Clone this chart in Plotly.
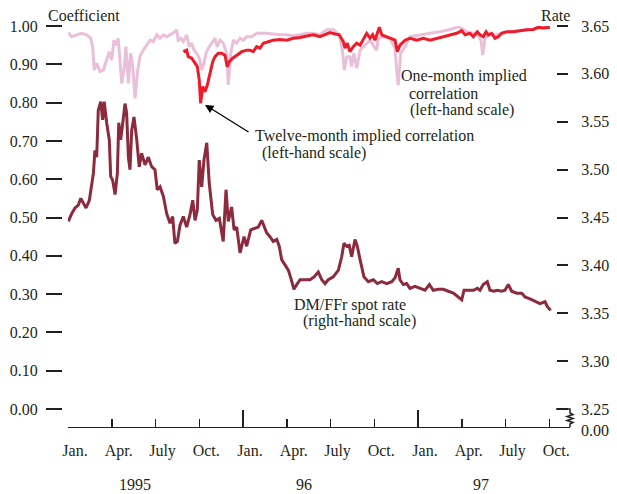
import plotly.graph_objects as go

# ---------------- data ----------------
# time in decimal years, values: correlation coefficient (left) / DM per FFr rate (right)
spot_t = [1995.002, 1995.021, 1995.040, 1995.059, 1995.073, 1995.087, 1995.103, 1995.122, 1995.135, 1995.145,
          1995.154, 1995.164, 1995.173, 1995.187, 1995.198, 1995.207, 1995.221, 1995.236, 1995.244, 1995.255,
          1995.269, 1995.282, 1995.290, 1995.301, 1995.313, 1995.326, 1995.335, 1995.345, 1995.354, 1995.364,
          1995.377, 1995.393, 1995.407, 1995.421, 1995.440, 1995.459, 1995.478, 1995.497, 1995.510, 1995.526,
          1995.545, 1995.564, 1995.583, 1995.598, 1995.611, 1995.625, 1995.640, 1995.659, 1995.678, 1995.697,
          1995.713, 1995.726, 1995.739, 1995.750, 1995.764, 1995.777, 1995.793, 1995.807, 1995.827, 1995.846,
          1995.865, 1995.887, 1995.903, 1995.916, 1995.935, 1995.949, 1995.964, 1995.983, 1996.006, 1996.021,
          1996.044, 1996.069, 1996.087, 1996.107, 1996.120, 1996.135, 1996.154, 1996.173, 1996.193, 1996.207,
          1996.221, 1996.240, 1996.259, 1996.273, 1996.291, 1996.307, 1996.326, 1996.354, 1996.383, 1996.406,
          1996.430, 1996.450, 1996.469, 1996.487, 1996.516, 1996.545, 1996.564, 1996.577, 1996.593, 1996.607,
          1996.621, 1996.640, 1996.653, 1996.669, 1996.691, 1996.716, 1996.745, 1996.767, 1996.793, 1996.821,
          1996.850, 1996.869, 1996.887, 1996.897, 1996.916, 1996.935, 1996.954, 1996.983, 1997.011, 1997.040,
          1997.065, 1997.087, 1997.116, 1997.145, 1997.173, 1997.202, 1997.230, 1997.250, 1997.263, 1997.287,
          1997.316, 1997.339, 1997.354, 1997.373, 1997.396, 1997.411, 1997.434, 1997.453, 1997.478, 1997.497,
          1997.516, 1997.535, 1997.564, 1997.593, 1997.611, 1997.640, 1997.669, 1997.697, 1997.726, 1997.739,
          1997.758]
spot_rate = [3.446, 3.454, 3.460, 3.463, 3.470, 3.465, 3.460, 3.468, 3.482, 3.496,
             3.520, 3.513, 3.562, 3.571, 3.552, 3.571, 3.549, 3.531, 3.493, 3.489,
             3.474, 3.496, 3.549, 3.531, 3.549, 3.569, 3.559, 3.513, 3.500, 3.541,
             3.555, 3.531, 3.503, 3.517, 3.505, 3.513, 3.503, 3.500, 3.479, 3.482,
             3.472, 3.454, 3.444, 3.451, 3.423, 3.425, 3.442, 3.451, 3.440, 3.453,
             3.468, 3.447, 3.458, 3.510, 3.482, 3.510, 3.528, 3.486, 3.453, 3.447,
             3.449, 3.425, 3.479, 3.446, 3.461, 3.437, 3.440, 3.413, 3.430, 3.420,
             3.437, 3.439, 3.440, 3.447, 3.440, 3.434, 3.430, 3.425, 3.427, 3.420,
             3.406, 3.400, 3.395, 3.387, 3.375, 3.380, 3.385, 3.385, 3.385, 3.388,
             3.393, 3.385, 3.381, 3.385, 3.388, 3.395, 3.409, 3.423, 3.420, 3.421,
             3.409, 3.427, 3.420, 3.406, 3.388, 3.383, 3.385, 3.381, 3.383, 3.381,
             3.383, 3.387, 3.397, 3.385, 3.380, 3.381, 3.376, 3.378, 3.376, 3.374,
             3.380, 3.374, 3.375, 3.375, 3.373, 3.371, 3.367, 3.364, 3.374, 3.374,
             3.374, 3.376, 3.374, 3.380, 3.383, 3.374, 3.373, 3.374, 3.373, 3.374,
             3.380, 3.373, 3.371, 3.371, 3.367, 3.365, 3.362, 3.360, 3.362, 3.357,
             3.353]

one_t = [1995.000, 1995.021, 1995.050, 1995.078, 1995.107, 1995.130, 1995.141, 1995.150, 1995.164, 1995.183,
         1995.202, 1995.221, 1995.236, 1995.250, 1995.263, 1995.274, 1995.287, 1995.297, 1995.307, 1995.320,
         1995.331, 1995.345, 1995.358, 1995.370, 1995.383, 1995.396, 1995.411, 1995.430, 1995.450, 1995.469,
         1995.487, 1995.507, 1995.526, 1995.545, 1995.564, 1995.583, 1995.611, 1995.621, 1995.630, 1995.644,
         1995.659, 1995.678, 1995.693, 1995.707, 1995.720, 1995.735, 1995.750, 1995.764, 1995.777, 1995.789,
         1995.802, 1995.821, 1995.840, 1995.853, 1995.869, 1995.887, 1995.907, 1995.916, 1995.930, 1995.945,
         1995.964, 1995.983, 1996.002, 1996.021, 1996.050, 1996.078, 1996.135, 1996.173, 1996.211, 1996.250,
         1996.287, 1996.326, 1996.364, 1996.402, 1996.440, 1996.478, 1996.516, 1996.550, 1996.570, 1996.579,
         1996.593, 1996.611, 1996.621, 1996.634, 1996.650, 1996.669, 1996.697, 1996.726, 1996.749, 1996.764,
         1996.773, 1996.802, 1996.840, 1996.869, 1996.878, 1996.887, 1996.901, 1996.926, 1996.954, 1997.011,
         1997.069, 1997.126, 1997.183, 1997.230, 1997.259, 1997.297, 1997.335, 1997.360, 1997.370, 1997.383,
         1997.411, 1997.450, 1997.487, 1997.526, 1997.583, 1997.640, 1997.697, 1997.754]
one_corr = [0.983, 0.972, 0.977, 0.981, 0.977, 0.968, 0.946, 0.885, 0.903, 0.881,
            0.885, 0.911, 0.933, 0.911, 0.963, 0.950, 0.968, 0.911, 0.850, 0.885,
            0.946, 0.850, 0.929, 0.894, 0.811, 0.876, 0.920, 0.937, 0.950, 0.963,
            0.959, 0.977, 0.968, 0.977, 0.972, 0.977, 0.985, 0.990, 0.963, 0.968,
            0.959, 0.977, 0.946, 0.955, 0.937, 0.929, 0.916, 0.885, 0.903, 0.929,
            0.942, 0.955, 0.968, 0.946, 0.963, 0.955, 0.929, 0.846, 0.929, 0.963,
            0.955, 0.968, 0.963, 0.972, 0.972, 0.981, 0.981, 0.979, 0.977, 0.977,
            0.974, 0.977, 0.981, 0.981, 0.977, 0.990, 0.990, 0.977, 0.929, 0.885,
            0.920, 0.920, 0.894, 0.929, 0.890, 0.937, 0.950, 0.963, 0.946, 0.937,
            0.968, 0.972, 0.968, 0.942, 0.885, 0.846, 0.929, 0.946, 0.972, 0.977,
            0.981, 0.985, 0.991, 0.998, 0.990, 0.981, 0.981, 0.963, 0.924, 0.968,
            0.977, 0.977, 0.983, 0.985, 0.988, 0.991, 0.994, 0.997]

twelve_t = [1995.659, 1995.678, 1995.687, 1995.707, 1995.726, 1995.739, 1995.750, 1995.758, 1995.770, 1995.783,
            1995.796, 1995.811, 1995.827, 1995.840, 1995.859, 1995.878, 1995.897, 1995.910, 1995.922, 1995.941,
            1995.964, 1995.993, 1996.021, 1996.040, 1996.059, 1996.078, 1996.097, 1996.116, 1996.145, 1996.173,
            1996.211, 1996.250, 1996.287, 1996.326, 1996.364, 1996.402, 1996.440, 1996.469, 1996.497, 1996.526,
            1996.550, 1996.573, 1996.583, 1996.596, 1996.611, 1996.630, 1996.650, 1996.669, 1996.687, 1996.707,
            1996.726, 1996.741, 1996.754, 1996.779, 1996.793, 1996.821, 1996.850, 1996.869, 1996.882, 1996.897,
            1996.926, 1996.954, 1996.993, 1997.030, 1997.069, 1997.107, 1997.145, 1997.183, 1997.221, 1997.250,
            1997.269, 1997.297, 1997.316, 1997.339, 1997.354, 1997.373, 1997.389, 1997.402, 1997.421, 1997.440,
            1997.459, 1997.478, 1997.507, 1997.545, 1997.583, 1997.621, 1997.659, 1997.687, 1997.716, 1997.754]
twelve_corr = [0.933, 0.937, 0.920, 0.916, 0.903, 0.894, 0.859, 0.798, 0.842, 0.828,
               0.846, 0.872, 0.907, 0.920, 0.929, 0.929, 0.924, 0.894, 0.907, 0.916,
               0.924, 0.933, 0.937, 0.937, 0.933, 0.946, 0.942, 0.955, 0.959, 0.963,
               0.965, 0.963, 0.968, 0.970, 0.974, 0.977, 0.972, 0.977, 0.983, 0.979,
               0.977, 0.959, 0.942, 0.955, 0.933, 0.946, 0.955, 0.950, 0.963, 0.981,
               0.968, 0.977, 0.963, 0.997, 0.977, 0.972, 0.968, 0.963, 0.933, 0.950,
               0.963, 0.968, 0.963, 0.968, 0.963, 0.968, 0.972, 0.977, 0.981, 0.988,
               0.977, 0.981, 0.972, 0.985, 0.977, 0.972, 0.985, 0.977, 0.981, 0.968,
               0.972, 0.981, 0.985, 0.985, 0.988, 0.990, 0.991, 0.997, 0.995, 0.997]

quarter_ticks = [1995.0, 1995.25, 1995.5, 1995.75, 1996.0, 1996.25, 1996.5, 1996.75,
                 1997.0, 1997.25, 1997.5, 1997.75]
month_labels = ["Jan.", "Apr.", "July", "Oct."] * 3
year_ticks = [1995.0, 1996.0, 1997.0]
year_labels = ["1995", "96", "97"]
year_label_pos = [1995.383, 1996.349, 1997.360]
left_ticks = [0.0, 0.1, 0.2, 0.3, 0.4, 0.5, 0.6, 0.7, 0.8, 0.9, 1.0]
right_ticks = [3.25, 3.30, 3.35, 3.40, 3.45, 3.50, 3.55, 3.60, 3.65]

# ---------------- styling ----------------
W, H = 617, 494
INK = "#231f20"
PINK = "#eabfda"
RED = "#ee1c2a"
MAROON = "#8c2a3e"
FONT = "Liberation Serif, Times New Roman, serif"


def px_x(x):
    return x / W


def px_y(y):
    return 1 - y / H


fig = go.Figure()
fig.add_trace(go.Scatter(x=one_t, y=one_corr, mode="lines", xaxis="x", yaxis="y",
                         line=dict(color=PINK, width=3), hoverinfo="skip", showlegend=False))
fig.add_trace(go.Scatter(x=twelve_t, y=twelve_corr, mode="lines", xaxis="x", yaxis="y",
                         line=dict(color=RED, width=3), hoverinfo="skip", showlegend=False))
fig.add_trace(go.Scatter(x=spot_t, y=spot_rate, mode="lines", xaxis="x", yaxis="y2",
                         line=dict(color=MAROON, width=3), hoverinfo="skip", showlegend=False))
# carrier trace for the long January tick axis
fig.add_trace(go.Scatter(x=[year_ticks[0]], y=[None], mode="lines", xaxis="x2", yaxis="y",
                         hoverinfo="skip", showlegend=False))

x_range = [1995.0, 1995.0 + 502 / 175]
axis_pos = px_y(426.5)

fig.update_layout(
    width=W, height=H, autosize=False,
    margin=dict(l=0, r=0, t=0, b=0),
    paper_bgcolor="white", plot_bgcolor="white",
    font=dict(family=FONT, size=16, color=INK),
    showlegend=False,
    xaxis=dict(domain=[px_x(68), px_x(570)], range=x_range, anchor="free", position=axis_pos,
               showline=True, linecolor=INK, linewidth=1.5,
               ticks="inside", tickvals=quarter_ticks, ticktext=month_labels,
               ticklen=8, tickwidth=1.5, tickcolor=INK,
               ticklabelshift=7, ticklabelstandoff=9,
               tickfont=dict(family=FONT, size=16, color=INK),
               showgrid=False, zeroline=False, automargin=False),
    xaxis2=dict(overlaying="x", range=x_range, anchor="free", position=axis_pos,
                ticks="inside", tickvals=year_ticks, ticklen=17, tickwidth=1.5, tickcolor=INK,
                showticklabels=False, showline=False, showgrid=False, zeroline=False, automargin=False),
    yaxis=dict(domain=[px_y(409), px_y(26)], range=[0, 1], anchor="free", position=px_x(62),
               side="left", ticks="outside", ticklen=16, tickwidth=2, tickcolor=INK,
               tickvals=left_ticks, tickformat=".2f", ticklabelstandoff=5,
               tickfont=dict(family=FONT, size=16, color=INK),
               showline=False, showgrid=False, zeroline=False, automargin=False),
    yaxis2=dict(overlaying="y", side="right", anchor="free", position=px_x(556),
                range=[3.25, 3.65], ticks="outside", ticklen=11, tickwidth=2, tickcolor=INK,
                tickvals=right_ticks, tickformat=".2f", ticklabelstandoff=10,
                tickfont=dict(family=FONT, size=16, color=INK),
                showline=False, showgrid=False, zeroline=False, automargin=False),
)

# axis break symbol on the right (3.25 -> 0.00)
pts = [(556, 409), (570, 409), (570, 413), (573, 414.5), (567, 416.5), (573, 418.5),
       (567, 420.5), (573, 422.5), (570, 424), (570, 427)]
path = "M " + " L ".join(f"{px_x(x):.5f},{px_y(y):.5f}" for x, y in pts)
fig.add_shape(type="path", path=path, xref="paper", yref="paper",
              line=dict(color=INK, width=1.5))


def label(text, x, y, anchor="left", size=16):
    fig.add_annotation(text=text, x=px_x(x), y=px_y(y), xref="paper", yref="paper",
                       xanchor=anchor, yanchor="middle", showarrow=False,
                       font=dict(family=FONT, size=size, color=INK))


label("Coefficient", 46, 16)
label("Rate", 572, 16, anchor="right")
label("0.00", 579, 430)
label("One-month implied", 399, 76)
label("correlation", 407, 93)
label("(left-hand scale)", 408, 110)
label("Twelve-month implied correlation", 253, 136)
label("(left-hand scale)", 260, 153)
label("DM/FFr spot rate", 292, 305)
label("(right-hand scale)", 301, 321)

for txt, xpos in zip(year_labels, year_label_pos):
    fig.add_annotation(text=txt, x=xpos, y=px_y(484), xref="x", yref="paper",
                       xanchor="center", yanchor="middle", showarrow=False,
                       font=dict(family=FONT, size=16, color=INK))

# arrow pointing at the twelve-month low
fig.add_annotation(x=1995.783, y=0.794, xref="x", yref="y", text="", showarrow=True,
                   ax=45, ay=28, arrowhead=2, arrowsize=1.3, arrowwidth=1.3, arrowcolor="#000000")

fig.write_html("out.html", config={"displayModeBar": False, "staticPlot": True},
               post_script="document.body.style.margin='0';document.body.style.overflow='hidden';")
